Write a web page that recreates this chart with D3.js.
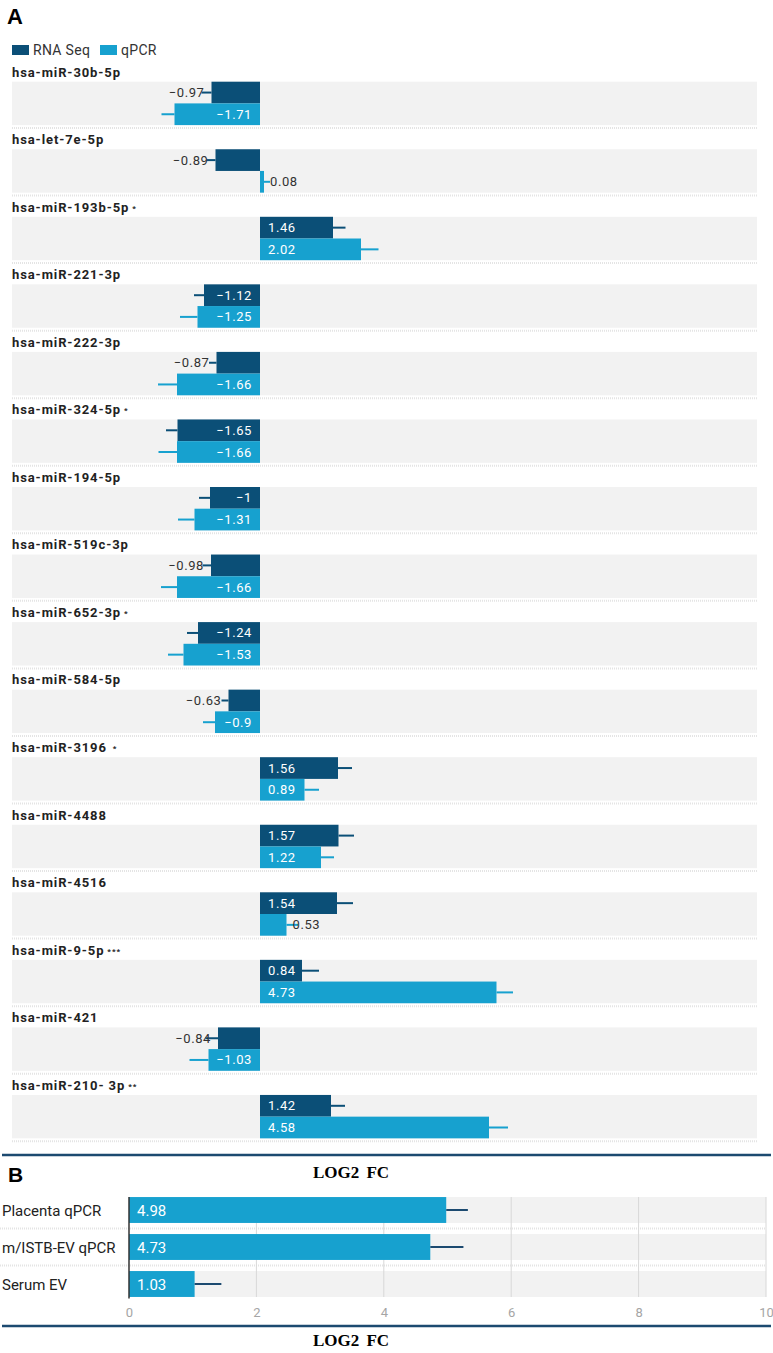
<!DOCTYPE html>
<html>
<head>
<meta charset="utf-8">
<script src="https://cdn.jsdelivr.net/npm/d3@7"></script>
<style>
  body { margin: 0; background: #fff; }
  svg { display: block; font-family: Roboto, "Noto Sans", sans-serif; }
</style>
</head>
<body>
<svg id="chart" width="773" height="1353"></svg>
<script>
// panel A: miRNA validation, RNA Seq vs qPCR (log2 FC)
const mirnas = ['hsa-miR-30b-5p', 'hsa-let-7e-5p', 'hsa-miR-193b-5p', 'hsa-miR-221-3p',
	'hsa-miR-222-3p', 'hsa-miR-324-5p', 'hsa-miR-194-5p', 'hsa-miR-519c-3p',
	'hsa-miR-652-3p', 'hsa-miR-584-5p', 'hsa-miR-3196', 'hsa-miR-4488',
	'hsa-miR-4516', 'hsa-miR-9-5p', 'hsa-miR-421', 'hsa-miR-210- 3p'];
const stars = ['', '', '*', '', '', '*', '', '', '*', '', '*', '', '', '***', '', '**'];
const rnaSeq = [-0.97, -0.89, 1.46, -1.12, -0.87, -1.65, -1, -0.98, -1.24, -0.63, 1.56, 1.57, 1.54, 0.84, -0.84, 1.42];
const rnaSeqErr = [0.2, 0.18, 0.25, 0.2, 0.15, 0.23, 0.22, 0.17, 0.22, 0.14, 0.28, 0.31, 0.32, 0.34, 0.25, 0.28];
const qpcr = [-1.71, 0.08, 2.02, -1.25, -1.66, -1.66, -1.31, -1.66, -1.53, -0.9, 0.89, 1.22, 0.53, 4.73, -1.03, 4.58];
const qpcrErr = [0.26, 0.12, 0.35, 0.35, 0.38, 0.37, 0.33, 0.32, 0.31, 0.24, 0.29, 0.26, 0.23, 0.33, 0.38, 0.38];

// panel B: miR-9-5p across sample types
const sources = ['Placenta qPCR', 'm/ISTB-EV qPCR', 'Serum EV'];
const sourceFC = [4.98, 4.73, 1.03];
const sourceErr = [0.34, 0.52, 0.42];
const bTicks = [0, 2, 4, 6, 8, 10];

const seriesNames = ['RNA Seq', 'qPCR'];
const dark = '#0b4f77', light = '#17a1cf', band = '#f2f2f2', rule = '#1c4a70';

const svg = d3.select('#chart');

// ---------- Panel A ----------
const xA = d3.scaleLinear().domain([-5, 10]).range([10, 760]);
const rowY = d3.scaleBand().domain(mirnas).range([62, 62 + 16 * 67.55]);
const subY = d3.scaleBand().domain(['rna', 'qpcr']).range([19.7, 19.7 + 43.4]);

svg.append('text').attr('x', 7).attr('y', 24)
	.attr('font-family', 'Arial, "Liberation Sans", sans-serif')
	.attr('font-weight', 'bold').attr('font-size', 22).text('A');

// legend
const legend = svg.append('g').attr('transform', 'translate(12,45)');
const legItems = legend.selectAll('g').data(seriesNames).enter().append('g')
	.attr('transform', (d, i) => `translate(${i * 88},0)`);
legItems.append('rect').attr('width', 17).attr('height', 10)
	.attr('fill', (d, i) => i ? light : dark);
legItems.append('text').attr('x', 21).attr('y', 10)
	.attr('font-size', 14).attr('letter-spacing', 0.3).attr('fill', '#333').text(d => d);

const rows = svg.selectAll('.row').data(mirnas).enter().append('g')
	.attr('class', 'row')
	.attr('transform', d => `translate(0,${rowY(d)})`);

rows.append('rect').attr('x', 12).attr('y', subY.range()[0])
	.attr('width', 745).attr('height', 43.4).attr('fill', band);

rows.append('line').attr('x1', 12).attr('x2', 757).attr('y1', 66).attr('y2', 66)
	.attr('stroke', '#e4e4e4').attr('stroke-width', 2).attr('stroke-dasharray', '1,1');

const lab = rows.append('text').attr('x', 12).attr('y', 14.5)
	.attr('font-size', 13).attr('font-weight', 'bold').attr('letter-spacing', 0.9)
	.attr('fill', '#222').text(d => d);
lab.append('tspan').attr('font-size', 8).attr('dx', (d, i) => i === 10 ? 6 : 3)
	.attr('dy', -1).text((d, i) => stars[i]);

const fmt = v => (v < 0 ? '\u2212' : '') + Math.abs(v);

function drawSeries(key, vals, errs, color) {
	rows.each(function (d, i) {
		const g = d3.select(this);
		const v = vals[i], e = errs[i];
		const y0 = subY(key), h = subY.bandwidth();
		const x0 = xA(0), x1 = xA(v);
		g.append('rect')
			.attr('x', Math.min(x0, x1)).attr('y', y0)
			.attr('width', Math.abs(x1 - x0)).attr('height', h)
			.attr('fill', color);
		g.append('line')
			.attr('x1', x1).attr('x2', xA(v + Math.sign(v) * e))
			.attr('y1', y0 + h / 2).attr('y2', y0 + h / 2)
			.attr('stroke', color).attr('stroke-width', 2);
		const t = g.append('text').attr('y', y0 + h / 2 + 4.5)
			.attr('font-size', 13).attr('letter-spacing', 0.6).text(fmt(v));
		const tw = t.node().getComputedTextLength();
		// label goes inside the bar only when it fits with some padding
		const inside = Math.abs(x1 - x0) - tw >= 13.8;
		if (inside) {
			t.attr('fill', '#fff')
				.attr('x', v < 0 ? x0 - 8 : x0 + 8)
				.attr('text-anchor', v < 0 ? 'end' : 'start');
		} else {
			t.attr('fill', '#333')
				.attr('x', v < 0 ? x1 - 7 : x1 + 6)
				.attr('text-anchor', v < 0 ? 'end' : 'start');
		}
	});
}
drawSeries('rna', rnaSeq, rnaSeqErr, dark);
drawSeries('qpcr', qpcr, qpcrErr, light);

// ---------- Panel B ----------
const xB = d3.scaleLinear().domain([0, 10]).range([129, 766]);
const yB = d3.scaleBand().domain(sources).range([1191.5, 1302.5]).paddingInner(0.3).paddingOuter(0.15);

svg.append('line').attr('x1', 2).attr('x2', 771).attr('y1', 1155).attr('y2', 1155)
	.attr('stroke', rule).attr('stroke-width', 2.5);
svg.append('line').attr('x1', 2).attr('x2', 771).attr('y1', 1326).attr('y2', 1326)
	.attr('stroke', rule).attr('stroke-width', 2.5);

svg.append('text').attr('x', 8).attr('y', 1182)
	.attr('font-family', 'Arial, "Liberation Sans", sans-serif')
	.attr('font-weight', 'bold').attr('font-size', 21).text('B');

[1178, 1346].forEach(y => {
	svg.append('text').attr('x', 351).attr('y', y).attr('text-anchor', 'middle')
		.attr('font-family', '"Liberation Serif", "Times New Roman", serif')
		.attr('font-weight', 'bold').attr('font-size', 17).attr('word-spacing', 3)
		.text('LOG2 FC');
});

const gB = svg.append('g');
gB.selectAll('.bband').data(sources).enter().append('rect')
	.attr('x', xB(0)).attr('y', d => yB(d))
	.attr('width', xB(10) - xB(0)).attr('height', yB.bandwidth()).attr('fill', band);

gB.selectAll('.sep').data(sources.slice(1)).enter().append('line')
	.attr('x1', 0).attr('x2', xB(10))
	.attr('y1', d => yB(d) - 5.5).attr('y2', d => yB(d) - 5.5)
	.attr('stroke', '#e4e4e4').attr('stroke-width', 2).attr('stroke-dasharray', '1,1');

gB.selectAll('.grid').data(bTicks.slice(1)).enter().append('line')
	.attr('x1', d => xB(d)).attr('x2', d => xB(d))
	.attr('y1', yB.range()[0] + 5.5).attr('y2', yB.range()[1] - 5.5)
	.attr('stroke', '#d8d8d8').attr('stroke-width', 1);

gB.selectAll('.bar').data(sources).enter().append('rect')
	.attr('x', xB(0)).attr('y', d => yB(d))
	.attr('width', (d, i) => xB(sourceFC[i]) - xB(0)).attr('height', yB.bandwidth())
	.attr('fill', light);

gB.selectAll('.err').data(sources).enter().append('line')
	.attr('x1', (d, i) => xB(sourceFC[i])).attr('x2', (d, i) => xB(sourceFC[i] + sourceErr[i]))
	.attr('y1', d => yB(d) + yB.bandwidth() / 2).attr('y2', d => yB(d) + yB.bandwidth() / 2)
	.attr('stroke', rule).attr('stroke-width', 2);

gB.selectAll('.val').data(sources).enter().append('text')
	.attr('x', xB(0) + 8).attr('y', d => yB(d) + yB.bandwidth() / 2 + 5.5)
	.attr('font-size', 15).attr('fill', '#fff').text((d, i) => sourceFC[i]);

gB.selectAll('.cat').data(sources).enter().append('text')
	.attr('x', 2).attr('y', d => yB(d) + yB.bandwidth() / 2 + 5.5)
	.attr('font-size', 15).attr('fill', '#222').text(d => d);

gB.append('line').attr('x1', xB(0)).attr('x2', xB(0))
	.attr('y1', yB.range()[0] + 5.5).attr('y2', yB.range()[1] - 4)
	.attr('stroke', '#333').attr('stroke-width', 1.5);

const axB = gB.append('g').attr('transform', `translate(0,${yB.range()[1] - 3})`)
	.call(d3.axisBottom(xB).tickValues(bTicks).tickSize(0).tickPadding(8));
axB.select('.domain').remove();
axB.selectAll('text').attr('fill', '#a5a5a5').attr('font-size', 13)
	.attr('font-family', 'Roboto, sans-serif');
</script>
</body>
</html>
